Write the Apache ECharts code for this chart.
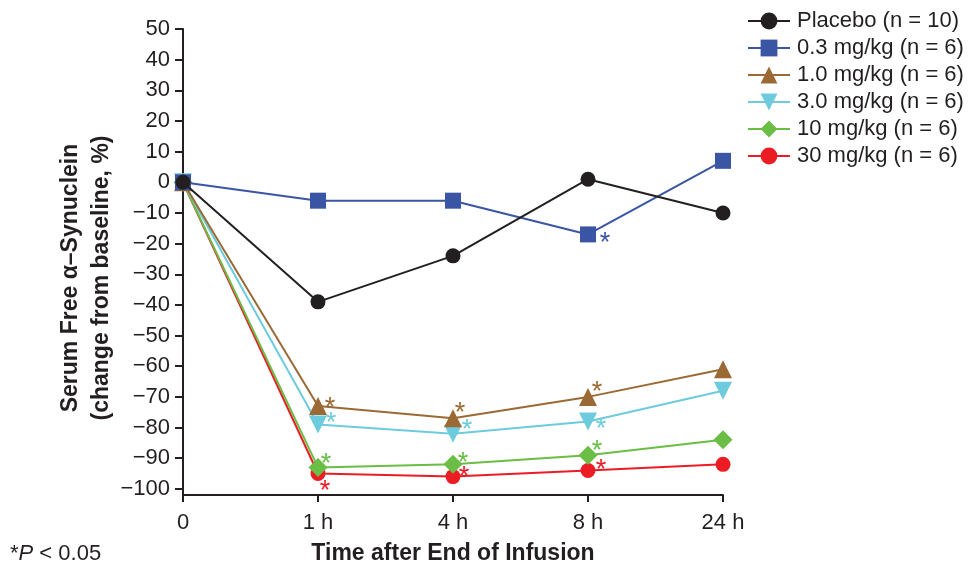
<!DOCTYPE html>
<html>
<head>
<meta charset="utf-8">
<script src="https://cdn.jsdelivr.net/npm/echarts@6/dist/echarts.min.js"></script>
<style>
  html, body { margin: 0; padding: 0; background: #fff; }
  #chart { width: 974px; height: 565px; }
</style>
</head>
<body>
<div id="chart"></div>
<script>
// categories (time after end of infusion)
const timePoints = ["0", "1 h", "4 h", "8 h", "24 h"];

// % change from baseline, serum free alpha-synuclein
const placebo = [0, -39, -24, 1, -10];
const dose03 = [0, -6, -6, -17, 7];
const dose1 = [0, -73, -77, -70, -61];
const dose3 = [0, -79, -82, -78, -68];
const dose10 = [0, -93, -92, -89, -84];
const dose30 = [0, -95, -96, -94, -92];

// P < 0.05 flags
const placeboSig = [0, 0, 0, 0, 0];
const dose03Sig = [0, 0, 0, 1, 0];
const dose1Sig = [0, 1, 1, 1, 0];
const dose3Sig = [0, 1, 1, 1, 0];
const dose10Sig = [0, 1, 1, 1, 0];
const dose30Sig = [0, 1, 1, 1, 0];

const yTicks = [-100, -90, -80, -70, -60, -50, -40, -30, -20, -10, 0, 10, 20, 30, 40, 50];

const font = "Arial, 'Liberation Sans', Helvetica, sans-serif";
const ink = "#231f20";

// where each asterisk sits next to its marker
const starPos = {
  placebo: [],
  d03: [null, null, null, [17, 3], null],
  d1: [null, [12, -4], [7, -11], [9, -10], null],
  d3: [null, [13, -7], [14, -9], [13, 2], null],
  d10: [null, [8, -9], [10, -7], [9, -10], null],
  d30: [null, [7, 12], [11, -5], [13, -6], null],
};

function makeSeries(name, values, sig, key, color, symbol, size, rotate, z) {
  return {
    name: name,
    type: "line",
    z: z,
    symbol: symbol,
    symbolSize: size,
    symbolRotate: rotate,
    showAllSymbol: true,
    lineStyle: { color: color, width: 2 },
    itemStyle: { color: color },
    emphasis: { disabled: true },
    data: values.map((v, i) => {
      const off = starPos[key][i] || [10, -6];
      return {
        value: v,
        label: {
          show: !!sig[i],
          formatter: "*",
          position: "inside",
          align: "center",
          verticalAlign: "middle",
          offset: [off[0], off[1] + 6],
          color: color,
          fontSize: 27,
          fontFamily: font,
        },
      };
    }),
  };
}

const chart = echarts.init(document.getElementById("chart"));

const option = {
  animation: false,
  backgroundColor: "#fff",
  textStyle: { fontFamily: font, color: ink },
  grid: { left: 183, right: 251, top: 29, bottom: 70, containLabel: false, outerBoundsMode: "none" },
  legend: {
    left: 742,
    top: 5,
    orient: "vertical",
    itemWidth: 42,
    itemHeight: 21,
    itemGap: 5,
    selectedMode: false,
    textStyle: { fontSize: 22, color: ink, fontFamily: font, padding: [0, 0, 0, 2] },
    data: ["Placebo (n = 10)", "0.3 mg/kg (n = 6)", "1.0 mg/kg (n = 6)",
      "3.0 mg/kg (n = 6)", "10 mg/kg (n = 6)", "30 mg/kg (n = 6)"],
  },
  xAxis: {
    type: "category",
    data: timePoints,
    boundaryGap: false,
    name: "Time after End of Infusion",
    nameLocation: "middle",
    nameGap: 47,
    nameTextStyle: { fontSize: 23, fontWeight: "bold", color: ink, fontFamily: font },
    axisLine: { onZero: false, lineStyle: { color: ink, width: 2 } },
    axisTick: { show: true, length: 7, alignWithLabel: true, lineStyle: { color: ink, width: 2 } },
    axisLabel: { fontSize: 22, color: ink, margin: 17, fontFamily: font },
    splitLine: { show: false },
  },
  yAxis: {
    type: "value",
    min: -102,
    max: 50,
    axisLine: { show: true, lineStyle: { color: ink, width: 2 } },
    axisTick: { show: true, length: 8, customValues: yTicks, lineStyle: { color: ink, width: 2 } },
    axisLabel: {
      fontSize: 22,
      color: ink,
      margin: 13,
      fontFamily: font,
      customValues: yTicks,
      formatter: (v) => (v < 0 ? "\u2212" + Math.abs(v) : String(v)),
    },
    splitLine: { show: false },
  },
  graphic: [
    {
      type: "text",
      x: 86,
      y: 278,
      rotation: Math.PI / 2,
      style: {
        text: "Serum Free \u03b1\u2013Synuclein\n(change from baseline, %)",
        font: "bold 23px " + font,
        fill: ink,
        align: "center",
        verticalAlign: "middle",
        lineHeight: 31,
      },
    },
    {
      type: "text",
      left: 10,
      top: 543,
      style: {
        text: "{a|*}{i|P}{a| < 0.05}",
        rich: {
          a: { fontSize: 22, fontFamily: font, fill: ink },
          i: { fontSize: 22, fontFamily: font, fontStyle: "italic", fill: ink },
        },
      },
    },
  ],
  series: [
    makeSeries("Placebo (n = 10)", placebo, placeboSig, "placebo", "#231f20", "circle", 15, 0, 10),
    makeSeries("0.3 mg/kg (n = 6)", dose03, dose03Sig, "d03", "#3a55a4", "rect", 16, 0, 9),
    makeSeries("1.0 mg/kg (n = 6)", dose1, dose1Sig, "d1", "#9b6a34", "triangle", 18, 0, 6),
    makeSeries("3.0 mg/kg (n = 6)", dose3, dose3Sig, "d3", "#6ccbdc", "triangle", 18, 180, 5),
    makeSeries("10 mg/kg (n = 6)", dose10, dose10Sig, "d10", "#6abd45", "diamond", 19, 0, 4),
    makeSeries("30 mg/kg (n = 6)", dose30, dose30Sig, "d30", "#ec1c24", "circle", 15, 0, 3),
  ],
};

chart.setOption(option);
</script>
</body>
</html>
